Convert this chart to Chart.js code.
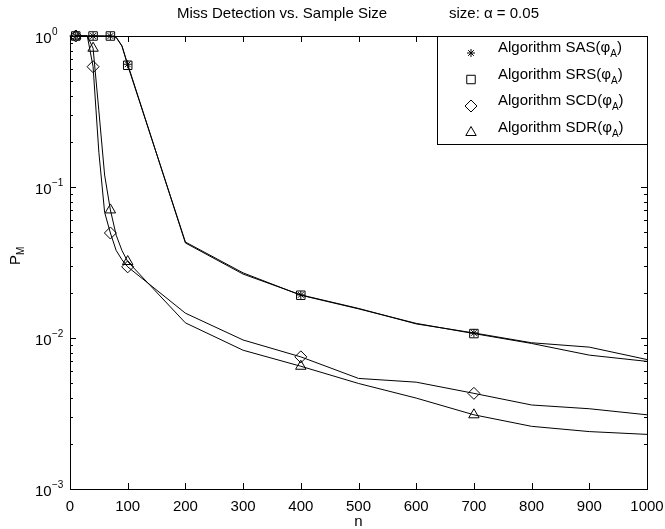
<!DOCTYPE html>
<html>
<head>
<meta charset="utf-8">
<script src="https://cdn.jsdelivr.net/npm/chart.js@4"></script>
<style>
  html, body { margin: 0; padding: 0; background: #fff; }
  #wrap { width: 665px; height: 529px; }
</style>
</head>
<body>
<div id="wrap"><canvas id="missChart" width="665" height="529"></canvas></div>
<script>
'use strict';

// sample sizes n
const nValues = [10, 20, 30, 40, 50, 60, 70, 80, 90, 100, 200, 300, 400, 500, 600, 700, 800, 900, 1000];
// points that carry a marker
const markerN = [10, 40, 70, 100, 400, 700];

const sasValues = [1, 1, 1, 1, 1, 1, 1, 0.98, 0.86, 0.65, 0.0426, 0.0265, 0.0193, 0.0157, 0.0124, 0.0108, 0.0093, 0.0087, 0.0072];
const srsValues = [1, 1, 1, 1, 1, 1, 1, 0.98, 0.86, 0.64, 0.0432, 0.0270, 0.0192, 0.0156, 0.0125, 0.0107, 0.0092, 0.0077, 0.0070];
const scdValues = [1, 1, 1, 0.626, 0.17, 0.068, 0.0496, 0.038, 0.033, 0.0296, 0.0146, 0.0097, 0.0075, 0.0054, 0.0051, 0.0043, 0.0036, 0.0034, 0.0031];
const sdrValues = [1, 1, 1, 0.83, 0.32, 0.12, 0.0705, 0.048, 0.038, 0.0321, 0.0126, 0.0083, 0.0065, 0.0050, 0.0040, 0.0031, 0.0026, 0.0024, 0.0023];

const xTicks = [0, 100, 200, 300, 400, 500, 600, 700, 800, 900, 1000];
const yDecades = [-3, -2, -1, 0];

const seriesNames = ['SAS', 'SRS', 'SCD', 'SDR'];
const seriesMarkers = ['star', 'rect', 'rectRot', 'triangle'];
const markerSizes = [4, 6, 6, 6];

const FONT = '"Liberation Sans", Arial, Helvetica, sans-serif';
const BIG = '15px ' + FONT;
const SMALL = '10px ' + FONT;

function makeDataset(values, i) {
    return {
        label: 'Algorithm ' + seriesNames[i],
        data: nValues.map((n, k) => ({ x: n, y: values[k] })),
        borderColor: '#000',
        borderWidth: 1,
        clip: false,
        pointStyle: seriesMarkers[i],
        pointBorderColor: '#000',
        pointBackgroundColor: 'rgba(0,0,0,0)',
        pointBorderWidth: 1,
        pointRadius: ctx => markerN.includes(nValues[ctx.dataIndex]) ? markerSizes[i] : 0,
        pointHoverRadius: 0,
        tension: 0
    };
}

// axes box, inward ticks, labels, title and legend drawn the MATLAB way
const matlabFrame = {
    id: 'matlabFrame',
    afterDraw(chart) {
        const ctx = chart.ctx;
        const a = chart.chartArea;
        const xs = chart.scales.x;
        const ys = chart.scales.y;
        ctx.save();
        ctx.strokeStyle = '#000';
        ctx.fillStyle = '#000';
        ctx.lineWidth = 1;

        // box
        ctx.strokeRect(Math.round(a.left) + 0.5, Math.round(a.top) + 0.5,
            Math.round(a.right - a.left), Math.round(a.bottom - a.top));

        // x ticks
        ctx.beginPath();
        xTicks.forEach(t => {
            const px = Math.round(xs.getPixelForValue(t)) + 0.5;
            ctx.moveTo(px, a.bottom); ctx.lineTo(px, a.bottom - 6);
            ctx.moveTo(px, a.top); ctx.lineTo(px, a.top + 6);
        });
        // y ticks, major and minor
        yDecades.forEach(d => {
            for (let m = 1; m <= 9; m++) {
                const v = m * Math.pow(10, d);
                if (v > 1.0001) continue;
                const py = Math.round(ys.getPixelForValue(v)) + 0.5;
                const len = m === 1 ? 6 : 3;
                ctx.moveTo(a.left, py); ctx.lineTo(a.left + len, py);
                ctx.moveTo(a.right, py); ctx.lineTo(a.right - len, py);
            }
        });
        ctx.stroke();

        // x tick labels
        ctx.font = BIG;
        ctx.textAlign = 'center';
        ctx.textBaseline = 'alphabetic';
        xTicks.forEach(t => {
            ctx.fillText(String(t), xs.getPixelForValue(t), a.bottom + 22);
        });
        ctx.fillText('n', (a.left + a.right) / 2, a.bottom + 37);

        // y tick labels 10^d
        ctx.textAlign = 'left';
        yDecades.forEach(d => {
            const py = ys.getPixelForValue(Math.pow(10, d));
            ctx.font = BIG;
            ctx.fillText('10', 35, py + 7);
            ctx.font = SMALL;
            ctx.fillText(d === 0 ? '0' : '\u2212' + Math.abs(d), 52, py - 1);
        });

        // y axis title P_M
        ctx.save();
        ctx.translate(20, 258);
        ctx.rotate(-Math.PI / 2);
        ctx.font = BIG;
        ctx.fillText('P', -7, 0);
        ctx.font = SMALL;
        ctx.fillText('M', 3, 4);
        ctx.restore();

        // title
        ctx.font = BIG;
        ctx.fillText('Miss Detection vs. Sample Size', 177, 18);
        ctx.fillText('size: \u03b1 = 0.05', 449, 18);

        // legend box
        const lx = 437, ly = Math.round(a.top), lw = Math.round(a.right) - 437, lh = 108;
        ctx.fillStyle = '#fff';
        ctx.fillRect(lx, ly, lw, lh);
        ctx.strokeRect(lx + 0.5, ly + 0.5, lw, lh);
        seriesNames.forEach((name, i) => {
            const cy = ly + 17 + i * 26.5;
            ctx.fillStyle = 'rgba(0,0,0,0)';
            ctx.strokeStyle = '#000';
            ctx.lineWidth = 1;
            Chart.helpers.drawPoint(ctx, {
                pointStyle: seriesMarkers[i], radius: markerSizes[i], borderWidth: 1
            }, 471, cy);
            ctx.fillStyle = '#000';
            ctx.font = BIG;
            const base = 'Algorithm ' + name + '(\u03c6';
            ctx.fillText(base, 498, cy - 1);
            const w = ctx.measureText(base).width;
            ctx.font = SMALL;
            ctx.fillText('A', 498 + w, cy + 4);
            const w2 = ctx.measureText('A').width;
            ctx.font = BIG;
            ctx.fillText(')', 498 + w + w2, cy - 1);
        });
        ctx.restore();
    }
};

new Chart(document.getElementById('missChart').getContext('2d'), {
    type: 'line',
    data: {
        datasets: [
            makeDataset(sasValues, 0),
            makeDataset(srsValues, 1),
            makeDataset(scdValues, 2),
            makeDataset(sdrValues, 3)
        ]
    },
    options: {
        responsive: false,
        animation: false,
        devicePixelRatio: 1,
        layout: { padding: { left: 70, right: 18, top: 36, bottom: 40 } },
        plugins: {
            legend: { display: false },
            title: { display: false },
            tooltip: { enabled: false }
        },
        scales: {
            x: {
                type: 'linear', min: 0, max: 1000,
                grid: { display: false }, border: { display: false },
                ticks: { display: false },
                afterFit: scale => { scale.height = 0; }
            },
            y: {
                type: 'logarithmic', min: 0.001, max: 1,
                grid: { display: false }, border: { display: false },
                ticks: { display: false },
                afterFit: scale => { scale.width = 0; }
            }
        }
    },
    plugins: [matlabFrame]
});
</script>
</body>
</html>
